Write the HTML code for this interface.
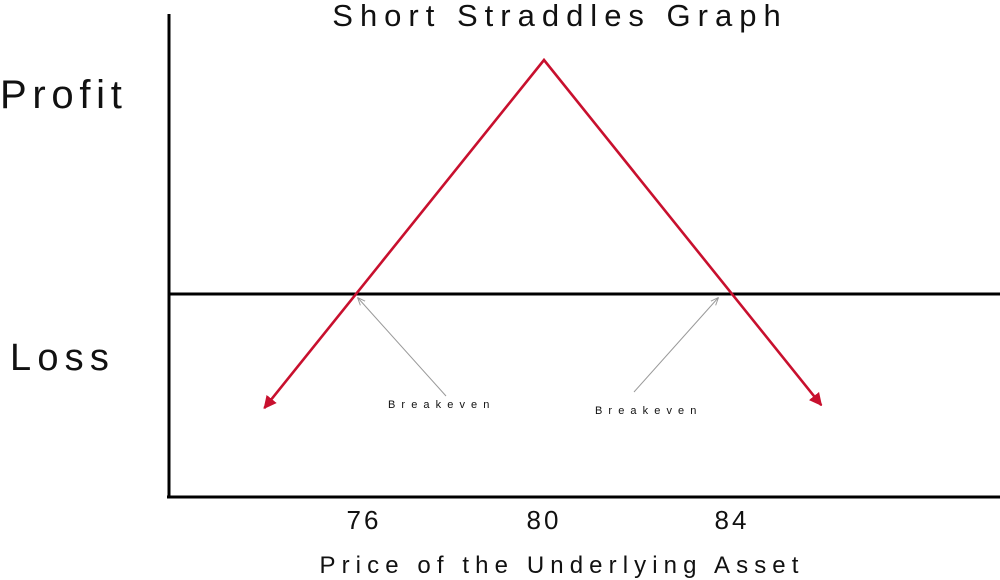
<!DOCTYPE html>
<html><head><meta charset="utf-8">
<style>
html,body{margin:0;padding:0;background:#fff;}
svg{display:block;font-family:"Liberation Sans",sans-serif;}
</style></head>
<body>
<svg width="1000" height="580" viewBox="0 0 1000 580">
<defs>
<marker id="redHead" viewBox="0 0 10 10" refX="9" refY="5" markerWidth="5" markerHeight="5" orient="auto-start-reverse">
<path d="M0,0 L10,5 L0,10 Z" fill="#c8102e"/>
</marker>
<marker id="grayHead" viewBox="0 0 10 10" refX="9" refY="5" markerWidth="8" markerHeight="8" orient="auto">
<path d="M0,1 L10,5 L0,9" fill="none" stroke="#999" stroke-width="1.2"/>
</marker>
</defs>
<g id="plot"></g>
</svg>
<script>
const xVals = [74.05, 80, 85.9];
const profitVals = [-1.95, 4, -1.9];
const tickVals = [76, 80, 84];
const tickLabels = ["76", "80", "84"];
const breakevenVals = [76, 84];

const NS = "http://www.w3.org/2000/svg";
const g = document.getElementById("plot");
function sx(v){ return 544 + (v - 80) * 47; }
function sy(v){ return 294 - v * 58.5; }
function mk(tag, attrs, parent){
  const e = document.createElementNS(NS, tag);
  for (const k in attrs) e.setAttribute(k, attrs[k]);
  (parent || g).appendChild(e);
  return e;
}
function txt(x, y, s, size, ls, anchor){
  const t = mk("text", {x:x, y:y, "font-size":size, "letter-spacing":ls, "text-anchor":anchor || "start", fill:"#111"});
  t.textContent = s;
  return t;
}

let e;
e = mk("line", {x1:169, y1:14, x2:169, y2:498, stroke:"#000", "stroke-width":3});


e = mk("line", {x1:167, y1:497, x2:1000, y2:497, stroke:"#000", "stroke-width":3});


e = mk("line", {x1:169, y1:sy(0), x2:1000, y2:sy(0), stroke:"#000", "stroke-width":3});



let d = "";
for (let i = 0; i < xVals.length; i++) d += (i ? " L" : "M") + sx(xVals[i]) + "," + sy(profitVals[i]);
e = mk("path", {d:d, fill:"none", stroke:"#c8102e", "stroke-width":2.6, "marker-start":"url(#redHead)", "marker-end":"url(#redHead)"});



const annOff = [[88, 98, 388, 408], [-84, 94, 595, 414]];
for (let i = 0; i < breakevenVals.length; i++) {
  const bx = sx(breakevenVals[i]) + (i ? -14 : 2), by = sy(0) + 4;
  e = mk("line", {x1:bx + annOff[i][0], y1:by + annOff[i][1], x2:bx, y2:by, stroke:"#999", "stroke-width":1, "marker-end":"url(#grayHead)"});
  
  
  e = txt(annOff[i][2], annOff[i][3], "Breakeven", 11, 6.1);
  
  
}

for (let i = 0; i < tickVals.length; i++) {
  e = txt(sx(tickVals[i]) + (i === 0 ? 8 : 0), 529, tickLabels[i], 26, 3, "middle");
  
  
}

e = txt(560, 26, "Short Straddles Graph", 31, 7, "middle");


e = txt(0, 108, "Profit", 40, 5.7);


e = txt(10, 370, "Loss", 38, 6.2);


e = txt(562, 573, "Price of the Underlying Asset", 24, 6.1, "middle");


</script>
</body></html>
